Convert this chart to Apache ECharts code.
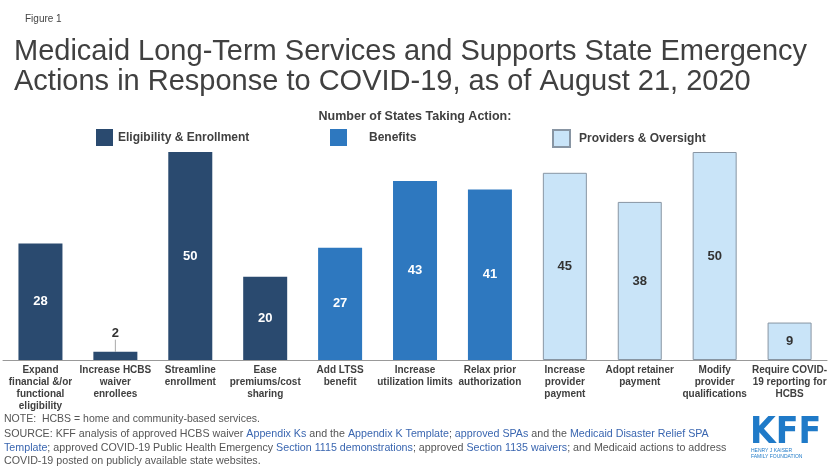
<!DOCTYPE html>
<html>
<head>
<meta charset="utf-8">
<script src="https://cdn.jsdelivr.net/npm/echarts@6/dist/echarts.min.js"></script>
<style>
  html, body { margin: 0; padding: 0; background: #fff; }
  #chart { width: 830px; height: 474px; }
</style>
</head>
<body>
<div id="chart"></div>
<script>
// categories (axis labels, pre-wrapped like the original)
var categories = [
    "Expand\nfinancial &/or\nfunctional\neligibility",
    "Increase HCBS\nwaiver\nenrollees",
    "Streamline\nenrollment",
    "Ease\npremiums/cost\nsharing",
    "Add LTSS\nbenefit",
    "Increase\nutilization limits",
    "Relax prior\nauthorization",
    "Increase\nprovider\npayment",
    "Adopt retainer\npayment",
    "Modify\nprovider\nqualifications",
    "Require COVID-\n19 reporting for\nHCBS"
];
// number of states taking each action
var stateCounts = [28, 2, 50, 20, 27, 43, 41, 45, 38, 50, 9];
// group of each category (index into groupNames)
var groupOf = [0, 0, 0, 0, 1, 1, 1, 2, 2, 2, 2];
var groupNames = ["Eligibility & Enrollment", "Benefits", "Providers & Oversight"];

var FONT = "'Liberation Sans', Arial, sans-serif";
var groupStyles = [
    { color: "#2a4a6f", labelColor: "#fff", borderColor: "#2a4a6f", borderWidth: 0 },
    { color: "#2e78bf", labelColor: "#fff", borderColor: "#2e78bf", borderWidth: 0 },
    { color: "#c9e4f8", labelColor: "#333", borderColor: "#8895a3", borderWidth: 1 }
];

var myChart = echarts.init(document.getElementById('chart'));

// one series per group, empty slots elsewhere
var series = groupNames.map(function (name, g) {
    var st = groupStyles[g];
    return {
        name: name,
        type: 'bar',
        stack: 'all',
        barWidth: 44,
        itemStyle: { color: st.color, borderColor: st.borderColor, borderWidth: st.borderWidth },
        label: {
            show: true,
            position: 'inside',
            color: st.labelColor,
            fontFamily: FONT,
            fontWeight: 'bold',
            fontSize: 13
        },
        labelLine: { show: true, lineStyle: { color: '#aaa', width: 1 } },
        // small bars get their label lifted with a short leader line
        labelLayout: function (p) {
            return stateCounts[p.dataIndex] < 5 ? { dy: -12 } : {};
        },
        data: stateCounts.map(function (v, i) {
            if (groupOf[i] !== g) return '-';
            if (v < 5) {
                return { value: v, label: { position: 'top', distance: 0, color: '#333' } };
            }
            return v;
        })
    };
});

var legendPos = [
    { left: 91, pad: 0 },
    { left: 325, pad: 17 },
    { left: 547, pad: 4 }
];

var option = {
    backgroundColor: '#fff',
    animation: false,
    title: [
        {
            text: 'Figure 1',
            left: 20, top: 9,
            textStyle: { fontFamily: FONT, fontSize: 10, fontWeight: 'normal', color: '#444' }
        },
        {
            text: 'Medicaid Long-Term Services and Supports State Emergency\nActions in Response to COVID-19, as of August 21, 2020',
            left: 9, top: 32,
            textStyle: { fontFamily: FONT, fontSize: 29, fontWeight: 'normal', color: '#404040', lineHeight: 30 }
        },
        {
            text: 'Number of States Taking Action:',
            left: 'center', top: 105,
            textStyle: { fontFamily: FONT, fontSize: 12.5, fontWeight: 'bold', color: '#404040' }
        }
    ],
    legend: groupNames.map(function (name, g) {
        return {
            data: [name],
            left: legendPos[g].left,
            top: 124,
            itemWidth: 17,
            itemHeight: 17,
            icon: 'rect',
            selectedMode: false,
            textStyle: {
                fontFamily: FONT, fontSize: 12, fontWeight: 'bold', color: '#404040',
                padding: [0, 0, 0, legendPos[g].pad]
            }
        };
    }),
    grid: { left: 3, right: 1, top: 152, bottom: 114 },
    xAxis: {
        type: 'category',
        data: categories,
        axisLine: { lineStyle: { color: '#999', width: 1 } },
        axisTick: { show: false },
        axisLabel: {
            interval: 0,
            margin: 4,
            fontFamily: FONT,
            fontSize: 10,
            fontWeight: 'bold',
            lineHeight: 12,
            color: '#404040'
        }
    },
    yAxis: {
        type: 'value',
        min: 0, max: 50,
        show: false,
        splitLine: { show: false }
    },
    graphic: [
        {
            type: 'text', left: 4, top: 414,
            style: {
                text: 'NOTE:  HCBS = home and community-based services.',
                font: '10.5px ' + FONT, fill: '#555'
            }
        },
        {
            type: 'text', left: 4, top: 429,
            style: {
                text: '{t|SOURCE: KFF analysis of approved HCBS waiver }{a|Appendix Ks}{t| and the }{a|Appendix K Template}{t|; }{a|approved SPAs}{t| and the }{a|Medicaid Disaster Relief SPA}\n' +
                      '{a|Template}{t|; approved COVID-19 Public Health Emergency }{a|Section 1115 demonstrations}{t|; approved }{a|Section 1135 waivers}{t|; and Medicaid actions to address}\n' +
                      '{t|COVID-19 posted on publicly available state websites.}',
                rich: {
                    t: { fontFamily: FONT, fontSize: 10.7, fill: '#555', lineHeight: 13.5 },
                    a: { fontFamily: FONT, fontSize: 10.7, fill: '#3a66b0', lineHeight: 13.5 }
                }
            }
        },
        {
            type: 'text', left: 750, top: 415,
            style: {
                text: 'KFF',
                font: 'bold 37px ' + "'Liberation Sans Narrow', 'DejaVu Sans Condensed', sans-serif",
                fill: '#1f7ac8'
            }
        },
        {
            type: 'text', left: 751, top: 448,
            style: {
                text: 'HENRY J KAISER\nFAMILY FOUNDATION',
                font: '5px ' + FONT, fill: '#1f7ac8', lineHeight: 6
            }
        }
    ],
    series: series
};

myChart.setOption(option);
</script>
</body>
</html>
